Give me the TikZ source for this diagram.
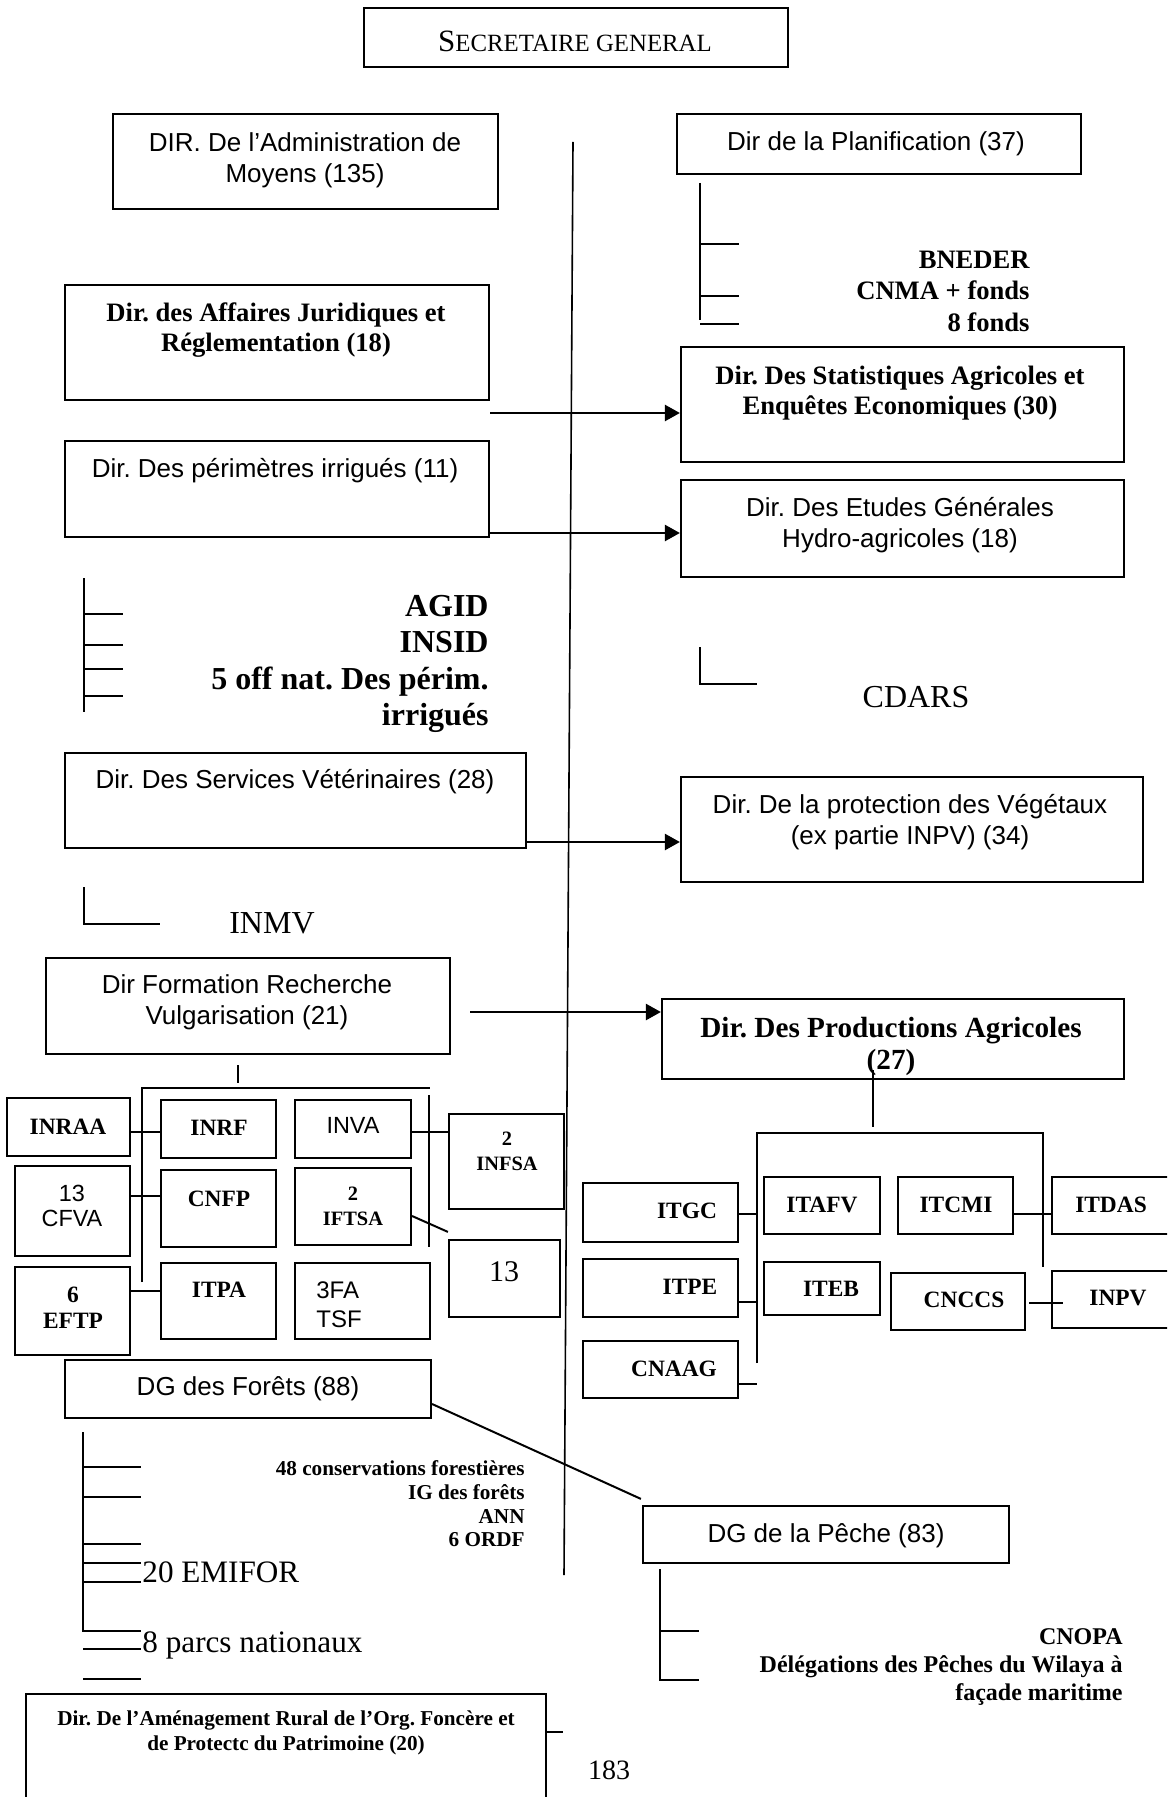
\documentclass[tikz,border=0pt]{standalone}
\usepackage{fontspec}
\setmainfont{Liberation Serif}
\newfontfamily\arialf{Liberation Sans}
\usetikzlibrary{arrows.meta, fit}
\frenchspacing

\begin{document}
\begin{tikzpicture}[x=0.5pt,y=-0.5pt,
  boite/.style={draw, line width=1.1pt, inner sep=0pt},
  trait/.style={line width=1pt},
  fleche/.style={line width=1.2pt, -{Triangle[length=7.5pt,width=8pt]}},
  sans/.style={font=\arialf\fontsize{13}{15.5}\selectfont, align=center, inner sep=0pt},
  gras/.style={font=\bfseries\fontsize{13.3}{15}\selectfont, align=center, inner sep=0pt},
  sigle/.style={font=\bfseries\fontsize{11.7}{12.8}\selectfont, align=center, inner sep=0pt},
  grand/.style={font=\fontsize{16}{18}\selectfont, inner sep=0pt}]
  \useasboundingbox (0,0) rectangle (1167,1797);
  \clip (0,0) rectangle (1167,1797);
  \foreach \n/\a/\b/\c/\d in {sg/364/8/788/67, adm/113/114/498/209, plan/677/114/1081/174,
    jur/65/285/489/400, stat/681/347/1124/462, peri/65/441/489/537, etud/681/480/1124/577,
    vet/65/753/526/848, veg/681/777/1143/882, form/46/958/450/1054, prod/662/999/1124/1079,
    inraa/7/1098/130/1156, inrf/161/1100/276/1158, inva/295/1100/411/1158, infsa/449/1114/564/1209,
    cfva/15/1166/130/1256, cnfp/161/1170/276/1247, iftsa/295/1168/411/1245, treize/449/1240/560/1317,
    eftp/15/1267/130/1355, itpa/161/1263/276/1339, fatsf/295/1263/430/1339,
    itgc/583/1183/738/1242, itpe/583/1259/738/1317, cnaag/583/1341/738/1398,
    itafv/764/1177/880/1234, iteb/764/1262/880/1315, itcmi/898/1177/1013/1234,
    cnccs/891/1273/1025/1330, itdas/1052/1177/1170/1234, inpv/1052/1271/1170/1328,
    fore/65/1360/431/1418, peche/643/1506/1009/1563, amen/26/1694/546/1802}
    \node[boite, fit={(\a,\b) (\c,\d)}] (\n) {};

  \node[inner sep=0pt, font=\fontsize{12.4}{14}\selectfont] (sg-t) at (575,41)
    {{\fontsize{15.5}{18}\selectfont S}ECRETAIRE GENERAL};
  \node[sans] (adm-t) at (305,160) {DIR. De l’Administration de\\Moyens (135)};
  \node[sans] (plan-t) at (876,144) {Dir de la Planification (37)};
  \node[sans] (peri-t) at (275,471) {Dir. Des périmètres irrigués (11)};
  \node[sans] (etud-t) at (900,525) {Dir. Des Etudes Générales\\Hydro-agricoles (18)};
  \node[sans] (vet-t) at (295,782) {Dir. Des Services Vétérinaires (28)};
  \node[sans] (veg-t) at (910,822) {Dir. De la protection des Végétaux\\(ex partie INPV) (34)};
  \node[sans] (form-t) at (247,1002) {Dir Formation Recherche\\Vulgarisation (21)};
  \node[sans] (fore-t) at (248,1389) {DG des Forêts (88)};
  \node[sans] (peche-t) at (826,1536) {DG de la Pêche (83)};
  \node[gras] (jur-t) at (276,330) {Dir. des Affaires Juridiques et\\Réglementation (18)};
  \node[gras] (stat-t) at (900,393) {Dir. Des Statistiques Agricoles et\\Enquêtes Economiques (30)};
  \node[gras, font=\bfseries\fontsize{14.6}{16}\selectfont] (prod-t) at (891,1046)
    {Dir. Des Productions Agricoles\\(27)};
  \node[gras, font=\bfseries\fontsize{10.6}{12.5}\selectfont] (amen-t) at (286,1733)
    {Dir. De l’Aménagement Rural de l’Org. Foncère et\\de Protectc du Patrimoine (20)};

  \node[gras, align=right, anchor=east, font=\bfseries\fontsize{13.3}{15.75}\selectfont] (plan-l)
    at (1030,291) {BNEDER\\CNMA + fonds\\8 fonds};
  \node[gras, align=right, anchor=east, font=\bfseries\fontsize{16}{18.3}\selectfont] (peri-l)
    at (489,664) {AGID\\INSID\\5 off nat. Des périm.\\irrigués};
  \node[gras, align=right, anchor=east, font=\bfseries\fontsize{10.6}{11.85}\selectfont] (fore-l)
    at (525,1504) {48 conservations forestières\\IG des forêts\\ANN\\6 ORDF};
  \node[gras, align=right, anchor=east, font=\bfseries\fontsize{12}{14}\selectfont] (peche-l)
    at (1123,1667) {CNOPA\\Délégations des Pêches du Wilaya à\\façade maritime};
  \node[grand] (cdars) at (916,697) {CDARS};
  \node[grand] (inmv) at (272,923) {INMV};
  \node[grand, anchor=west, font=\fontsize{15.6}{18}\selectfont] (emifor) at (142,1572) {20 EMIFOR};
  \node[grand, anchor=west, font=\fontsize{15.6}{18}\selectfont] (parcs) at (142,1645) {8 parcs nationaux};
  \node[grand, font=\fontsize{14}{16}\selectfont] (num) at (609,1770) {183};

  \foreach \n/\x/\y/\t in {inraa/68/1127/INRAA, inrf/219/1128/INRF, cnfp/219/1199/CNFP,
    itpa/219/1290/ITPA, itgc/687/1211/ITGC, itpe/690/1287/ITPE, cnaag/674/1369/CNAAG,
    itafv/822/1205/ITAFV, iteb/831/1289/ITEB, itcmi/956/1205/ITCMI, cnccs/964/1300/CNCCS,
    itdas/1111/1205/ITDAS, inpv/1118/1298/INPV}
    \node[sigle] (\n-t) at (\x,\y) {\t};
  \node[sigle] (eftp-t) at (73,1308) {6\\EFTP};
  \node[sigle, font=\bfseries\fontsize{10.2}{12.5}\selectfont] (infsa-t) at (507,1151) {2\\INFSA};
  \node[sigle, font=\bfseries\fontsize{10.2}{12.5}\selectfont] (iftsa-t) at (353,1206) {2\\IFTSA};
  \node[sans, font=\arialf\fontsize{11.7}{12.5}\selectfont] (inva-t) at (353,1125) {INVA};
  \node[sans, font=\arialf\fontsize{11.7}{12.5}\selectfont] (cfva-t) at (72,1206) {13\\CFVA};
  \node[sans, align=left, anchor=west, font=\arialf\fontsize{12}{14.5}\selectfont] (fatsf-t)
    at (316,1305) {3FA\\TSF};
  \node[grand, font=\fontsize{15}{17}\selectfont] (treize-t) at (504,1272) {13};

  \coordinate (axe-h) at (573,142);
  \coordinate (axe-b) at (564,1575);
  \draw[line width=0.8pt] (axe-h) -- (axe-b);

  \draw[fleche] (jur.east |- 0,413) -- (stat.west |- 0,413);
  \draw[fleche] (peri.east |- 0,533) -- (etud.west |- 0,533);
  \draw[fleche] (vet.east |- 0,842) -- (veg.west |- 0,842);
  \coordinate (f4) at (470,1012);
  \draw[fleche] (f4) -- (f4 -| prod.west);

  \draw[trait] (700,183) -- (700,320);
  \foreach \y in {244,296,324} \draw[trait] (700,\y) -- (739,\y);
  \draw[trait] (84,578) -- (84,712);
  \foreach \y in {614,645,669,696} \draw[trait] (84,\y) -- (123,\y);
  \draw[trait] (700,647) -- (700,684) -- (757,684);
  \draw[trait] (84,887) -- (84,924) -- (160,924);

  \draw[trait] (238,1065) -- (238,1083);
  \draw[trait] (142,1282) -- (142,1088) -- (430,1088);
  \draw[trait] (429,1095) -- (429,1247);
  \draw[trait] (inraa.east |- 0,1132) -- (inrf.west |- 0,1132);
  \draw[trait] (inva.east |- 0,1132) -- (infsa.west |- 0,1132);
  \draw[trait] (cfva.east |- 0,1196) -- (cnfp.west |- 0,1196);
  \draw[trait] (eftp.east |- 0,1291) -- (itpa.west |- 0,1291);
  \draw[trait] (iftsa.east |- 0,1216) -- ([shift={(0,-7)}]treize.north west);

  \draw[trait] (873,1070) -- (873,1127);
  \draw[trait] (757,1363) -- (757,1133) -- (1043,1133) -- (1043,1267);
  \draw[trait] (itgc.east |- 0,1214) -- (757,1214);
  \draw[trait] (itpe.east |- 0,1302) -- (757,1302);
  \draw[trait] (cnaag.east |- 0,1384) -- (757,1384);
  \draw[trait] (itcmi.east |- 0,1214) -- (itdas.west |- 0,1214);
  \draw[trait] (1029,1303) -- (1063,1303);

  \draw[trait] (fore.east |- 0,1404) -- ([shift={(-1,-6)}]peche.north west);
  \draw[trait] (83,1432) -- (83,1632);
  \foreach \y in {1467,1497,1544,1563,1582,1631,1649,1679} \draw[trait] (83,\y) -- (141,\y);
  \draw[trait] (660,1569) -- (660,1680) -- (699,1680);
  \draw[trait] (660,1631) -- (699,1631);
  \draw[trait] (amen.east |- 0,1732) -- (563,1732);
\end{tikzpicture}
\end{document}
